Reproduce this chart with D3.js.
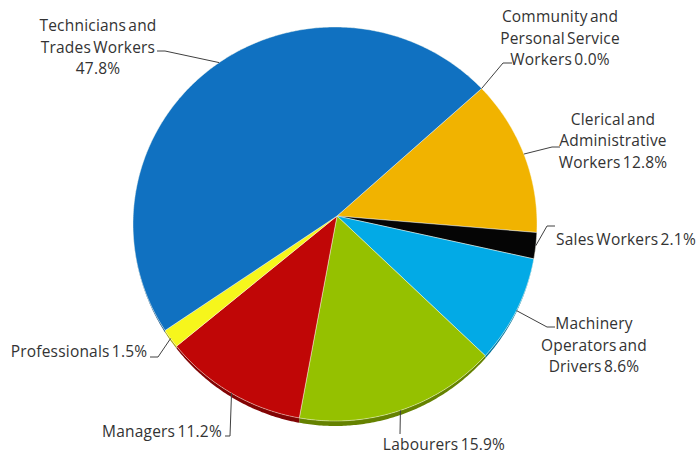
<!DOCTYPE html>
<html>
<head>
<meta charset="utf-8">
<script src="https://cdn.jsdelivr.net/npm/d3@7/dist/d3.min.js"></script>
<style>
  html, body { margin: 0; padding: 0; background: #fff; }
  svg { display: block; }
  text { font-family: "Open Sans", Lato, sans-serif; font-size: 15.5px; fill: #333; letter-spacing: 0.2px; word-spacing: -2px; }
</style>
</head>
<body>
<svg id="chart" width="698" height="456"></svg>
<script>
// Occupations of the workforce, share in percent
const categories = [
  "Community and Personal Service Workers",
  "Clerical and Administrative Workers",
  "Sales Workers",
  "Machinery Operators and Drivers",
  "Labourers",
  "Managers",
  "Professionals",
  "Technicians and Trades Workers"
];
const values = [0.0, 12.8, 2.1, 8.6, 15.9, 11.2, 1.5, 47.8];
const colors = ["#1a8fd0", "#f1b300", "#050505", "#02aae6", "#95c100", "#c00606", "#f6f61c", "#1071c1"];

// Wrapped label text; {v} is replaced by the formatted value
const labelLines = [
  ["Community and", "Personal Service", "Workers {v}"],
  ["Clerical and", "Administrative", "Workers {v}"],
  ["Sales Workers {v}"],
  ["Machinery", "Operators and", "Drivers {v}"],
  ["Labourers {v}"],
  ["Managers {v}"],
  ["Professionals {v}"],
  ["Technicians and", "Trades Workers", "{v}"]
];

// Label placement: text centre, first baseline, and leader elbow points
const labelLayout = [
  { x: 560, y: 22,  leader: [[503, 63], [512, 63]] },
  { x: 613, y: 124.5, leader: [[552, 147], [560, 147]] },
  { x: 626, y: 245, leader: [[547, 226], [555, 226]] },
  { x: 594, y: 329, leader: [[547, 327], [555, 327]] },
  { x: 444, y: 450, leader: [[400, 434]] },
  { x: 162, y: 437, leader: [[230, 436], [225, 436]] },
  { x: 79,  y: 357, leader: [[158, 357], [150, 357]] },
  { x: 98,  y: 31,  leader: [[165, 51], [157, 51]] }
];

const svg = d3.select("#chart");

// Tilted pie geometry: slices radiate from the apex to an elliptical rim
const apex = [337, 216];
const rimC = [335, 224];
const rx = 202, ry = 197;
const depth = 5;
const startDeg = 48.6;

function rimPoint(theta) {
  const dx = Math.sin(theta), dy = -Math.cos(theta);
  const px = apex[0] - rimC[0], py = apex[1] - rimC[1];
  const a = dx * dx / (rx * rx) + dy * dy / (ry * ry);
  const b = 2 * (px * dx / (rx * rx) + py * dy / (ry * ry));
  const c = px * px / (rx * rx) + py * py / (ry * ry) - 1;
  const t = (-b + Math.sqrt(b * b - 4 * a * c)) / (2 * a);
  return [apex[0] + t * dx, apex[1] + t * dy];
}

function rimSamples(a0, a1) {
  const n = Math.max(2, Math.ceil((a1 - a0) / 0.01));
  return d3.range(n + 1).map(i => a0 + (a1 - a0) * i / n);
}

const start = startDeg * Math.PI / 180;
const pie = d3.pie().sort(null).value(d => d).startAngle(start).endAngle(start + 2 * Math.PI);
const arcs = pie(values);

const line = d3.line();

// Side walls: thickest at the front (bottom), fading out toward the sides
const wall = theta => depth * Math.pow(Math.max(0, -Math.cos(theta)), 1.6);
const sides = svg.append("g");
arcs.forEach((a, i) => {
  if (a.endAngle - a.startAngle <= 0) return;
  const angles = rimSamples(a.startAngle, a.endAngle);
  const top = angles.map(rimPoint);
  const bottom = angles.map((t, k) => [top[k][0], top[k][1] + wall(t)]).reverse();
  sides.append("path")
    .attr("d", line(top.concat(bottom)) + "Z")
    .attr("fill", d3.color(colors[i]).darker(1.1));
});

// Top faces
const tops = svg.append("g");
arcs.forEach((a, i) => {
  if (a.endAngle - a.startAngle <= 0) return;
  const pts = [apex].concat(rimSamples(a.startAngle, a.endAngle).map(rimPoint));
  tops.append("path")
    .attr("d", line(pts) + "Z")
    .attr("fill", colors[i])
    .attr("stroke", "rgba(255,255,240,0.55)")
    .attr("stroke-width", 0.8)
    .attr("stroke-linejoin", "round");
});

// Leader lines and labels
const fmt = v => v.toFixed(1) + "%";
const labels = svg.append("g");
arcs.forEach((a, i) => {
  const mid = (a.startAngle + a.endAngle) / 2;
  const pts = [rimPoint(mid)].concat(labelLayout[i].leader);
  labels.append("path")
    .attr("d", line(pts))
    .attr("fill", "none")
    .attr("stroke", "#404040")
    .attr("stroke-width", 1);
  const t = labels.append("text")
    .attr("text-anchor", "middle")
    .attr("x", labelLayout[i].x)
    .attr("y", labelLayout[i].y);
  labelLines[i].forEach((s, k) => {
    t.append("tspan")
      .attr("x", labelLayout[i].x)
      .attr("dy", k === 0 ? 0 : 21.5)
      .text(s.replace("{v}", fmt(values[i])));
  });
});
</script>
</body>
</html>
